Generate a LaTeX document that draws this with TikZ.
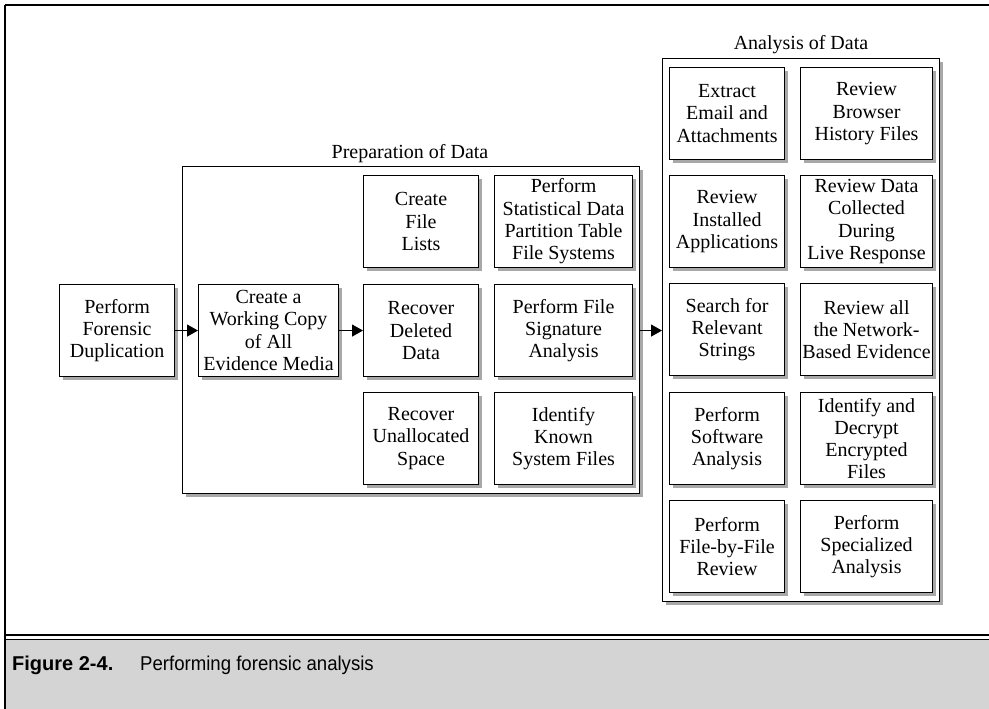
\documentclass[tikz,border=0pt]{standalone}
\usepackage{fontspec}
\setmainfont{Liberation Serif}
\setsansfont[FakeStretch=0.93, BoldFeatures={FakeStretch=1.0}]{Liberation Sans}
\usetikzlibrary{shadows,arrows.meta}
\definecolor{capgray}{HTML}{D4D4D4}
\definecolor{shadowgray}{HTML}{A8A8A8}
\tikzset{
  stepbox/.style={draw=black, line width=1.1pt, fill=white, anchor=north west,
    align=center, inner sep=1pt, font=\fontsize{20}{22.3}\selectfont,
    drop shadow={shadow xshift=3pt, shadow yshift=-3pt, fill=shadowgray, opacity=1}},
  groupbox/.style={draw=black, line width=1.1pt, fill=white, anchor=north west, inner sep=0pt,
    drop shadow={shadow xshift=3pt, shadow yshift=-3pt, fill=shadowgray, opacity=1}},
  grouplabel/.style={font=\fontsize{20}{22}\selectfont, anchor=base},
  flow/.style={line width=1.1pt, -{Triangle[length=11pt,width=12pt]}},
}
\begin{document}
\begin{tikzpicture}[x=1pt,y=-1pt]
\useasboundingbox (0,0) rectangle (989,709);
% caption band and page frame
\fill[capgray] (5,640) rectangle (989,709);
\draw[line width=2.6pt] (5,5) -- (989,5);
\draw[line width=2.6pt] (5,5) -- (5,709);
\draw[line width=2.5pt] (5,635) -- (989,635);
\draw[line width=1pt] (5,639.5) -- (989,639.5);
\node[anchor=base west, font=\sffamily\bfseries\fontsize{20}{22}\selectfont, inner sep=0pt] (fig) at (12,670) {Figure 2-4.};
\node[anchor=base west, font=\sffamily\fontsize{20}{22}\selectfont, inner sep=0pt] (cap) at (140,670) {Performing forensic analysis};

% group frames
\node[groupbox, minimum width=457pt, minimum height=327pt] (prep) at (182,166) {};
\node[grouplabel] (preplbl) at (410,158) {Preparation of Data};
\node[groupbox, minimum width=277pt, minimum height=543pt] (anal) at (662,58) {};
\node[grouplabel] (anallbl) at (801,50) {Analysis of Data};

% acquisition
\node[stepbox, minimum width=115pt, minimum height=92pt] (dup) at (59,284) {Perform\\Forensic\\Duplication};
\node[stepbox, minimum width=140pt, minimum height=92pt] (copy) at (198,284) {Create a\\Working Copy\\of All\\Evidence Media};

% preparation of data
\node[stepbox, minimum width=115pt, minimum height=92pt] (lists) at (363,175) {Create\\File\\Lists};
\node[stepbox, minimum width=138pt, minimum height=92pt] (stat) at (494,175) {Perform\\Statistical Data\\Partition Table\\File Systems};
\node[stepbox, minimum width=115pt, minimum height=92pt] (del) at (363,284) {Recover\\Deleted\\Data};
\node[stepbox, minimum width=138pt, minimum height=92pt] (sig) at (494,284) {Perform File\\Signature\\Analysis};
\node[stepbox, minimum width=115pt, minimum height=92pt] (unalloc) at (363,392) {Recover\\Unallocated\\Space};
\node[stepbox, minimum width=138pt, minimum height=92pt] (known) at (494,392) {Identify\\Known\\System Files};

% analysis of data
\node[stepbox, minimum width=115pt, minimum height=92pt] (email) at (669,67) {Extract\\Email and\\Attachments};
\node[stepbox, minimum width=132pt, minimum height=92pt] (browser) at (800,67) {Review\\Browser\\History Files};
\node[stepbox, minimum width=115pt, minimum height=92pt] (apps) at (669,175) {Review\\Installed\\Applications};
\node[stepbox, minimum width=132pt, minimum height=92pt] (live) at (800,175) {Review Data\\Collected\\During\\Live Response};
\node[stepbox, minimum width=115pt, minimum height=92pt] (strings) at (669,283) {Search for\\Relevant\\Strings};
\node[stepbox, minimum width=132pt, minimum height=92pt] (net) at (800,283) {Review all\\the Network-\\Based Evidence};
\node[stepbox, minimum width=115pt, minimum height=92pt] (soft) at (669,392) {Perform\\Software\\Analysis};
\node[stepbox, minimum width=132pt, minimum height=92pt] (decrypt) at (800,392) {Identify and\\Decrypt\\Encrypted\\Files};
\node[stepbox, minimum width=115pt, minimum height=92pt] (fbf) at (669,500) {Perform\\File-by-File\\Review};
\node[stepbox, minimum width=132pt, minimum height=92pt] (spec) at (800,500) {Perform\\Specialized\\Analysis};

% flow
\draw[flow] (dup.east) -- (copy.west);
\draw[flow] (copy.east) -- (del.west);
\draw[flow] (prep.east |- sig.east) -- (anal.west |- sig.east);
\end{tikzpicture}
\end{document}
